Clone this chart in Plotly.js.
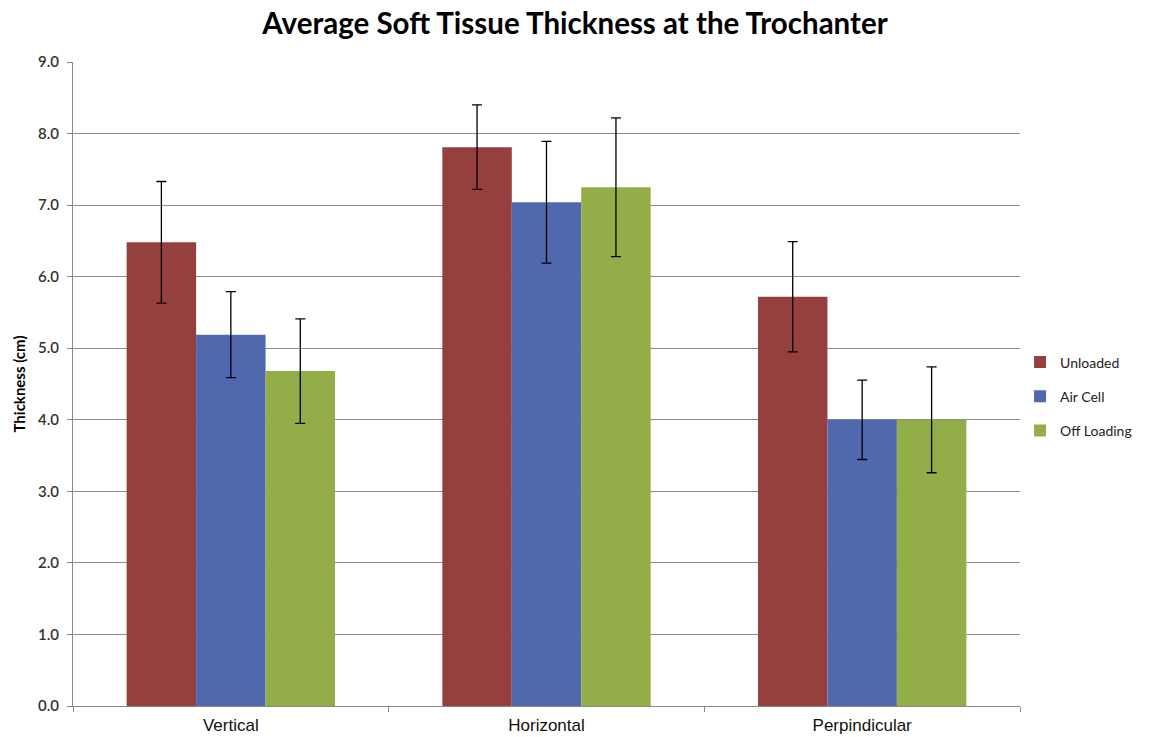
<!DOCTYPE html>
<html>
<head>
<meta charset="utf-8">
<script src="https://cdn.plot.ly/plotly-3.0.1.min.js"></script>
<style>html,body{margin:0;padding:0;background:#fff;}#chart{width:1150px;height:737px;}</style>
</head>
<body>
<div id="chart"></div>
<script>
const categories = ["Vertical", "Horizontal", "Perpindicular"];
const seriesNames = ["Unloaded", "Air Cell", "Off Loading"];
const unloaded = [6.48, 7.81, 5.72];
const airCell = [5.19, 7.04, 4.00];
const offLoading = [4.68, 7.25, 4.00];
const unloadedErr = [0.85, 0.59, 0.77];
const airCellErr = [0.60, 0.85, 0.555];
const offLoadingErr = [0.73, 0.97, 0.74];
const yTicks = [0, 1, 2, 3, 4, 5, 6, 7, 8, 9];
const yTickLabels = ["0.0", "1.0", "2.0", "3.0", "4.0", "5.0", "6.0", "7.0", "8.0", "9.0"];

const colors = ["#953F3E", "#5068AE", "#93AD48"];
const values = [unloaded, airCell, offLoading];
const errs = [unloadedErr, airCellErr, offLoadingErr];

const traces = seriesNames.map((name, i) => ({
  type: "bar",
  name: name,
  legendgroup: "g" + i,
  x: categories,
  y: values[i],
  marker: { color: colors[i], line: { width: 0 } },
  error_y: { type: "data", array: errs[i], visible: true, color: "#000", thickness: 1.3, width: 5 }
}));

const layout = {
  width: 1150,
  height: 737,
  margin: { l: 73, r: 130, t: 62, b: 31 },
  paper_bgcolor: "#fff",
  plot_bgcolor: "#fff",
  barmode: "group",
  bargap: 0.34,
  bargroupgap: 0,
  font: { family: "Lato, 'Open Sans', sans-serif", color: "#222" },
  title: {
    text: "<b>Average Soft Tissue Thickness at the Trochanter</b>",
    font: { family: "Lato, 'Open Sans', sans-serif", size: 29.5, color: "#000" },
    xref: "container", x: 0.5, xanchor: "center",
    yref: "container", y: 0.968, yanchor: "middle"
  },
  xaxis: {
    type: "category",
    showline: true, linecolor: "#888", linewidth: 1,
    ticks: "outside", tickson: "boundaries", ticklen: 5, tickcolor: "#888",
    ticklabelstandoff: 4,
    tickfont: { family: "'Liberation Sans', Arial, sans-serif", size: 17, color: "#111" },
    showgrid: false, zeroline: false
  },
  yaxis: {
    range: [0, 9],
    tickvals: yTicks,
    ticktext: yTickLabels,
    showline: true, linecolor: "#888", linewidth: 1,
    ticks: "outside", ticklen: 5, tickcolor: "#888",
    ticklabelstandoff: 5,
    showgrid: true, gridcolor: "#8c8c8c", gridwidth: 1,
    zeroline: false,
    tickfont: { family: "Lato, 'Open Sans', sans-serif", size: 15, color: "#333", weight: 600 },
    title: {
      text: "<b>Thickness (cm)</b>",
      font: { family: "Lato, 'Open Sans', sans-serif", size: 15, color: "#000" },
      standoff: 8
    }
  },
  legend: {
    xref: "container", yref: "container",
    x: 0.887, xanchor: "left",
    y: 0.462, yanchor: "middle",
    font: { family: "Lato, 'Open Sans', sans-serif", size: 14, color: "#222" },
    tracegroupgap: 13,
    itemwidth: 30,
    bgcolor: "rgba(0,0,0,0)"
  },
  showlegend: true
};

Plotly.newPlot("chart", traces, layout, { displayModeBar: false, staticPlot: true });
</script>
</body>
</html>
